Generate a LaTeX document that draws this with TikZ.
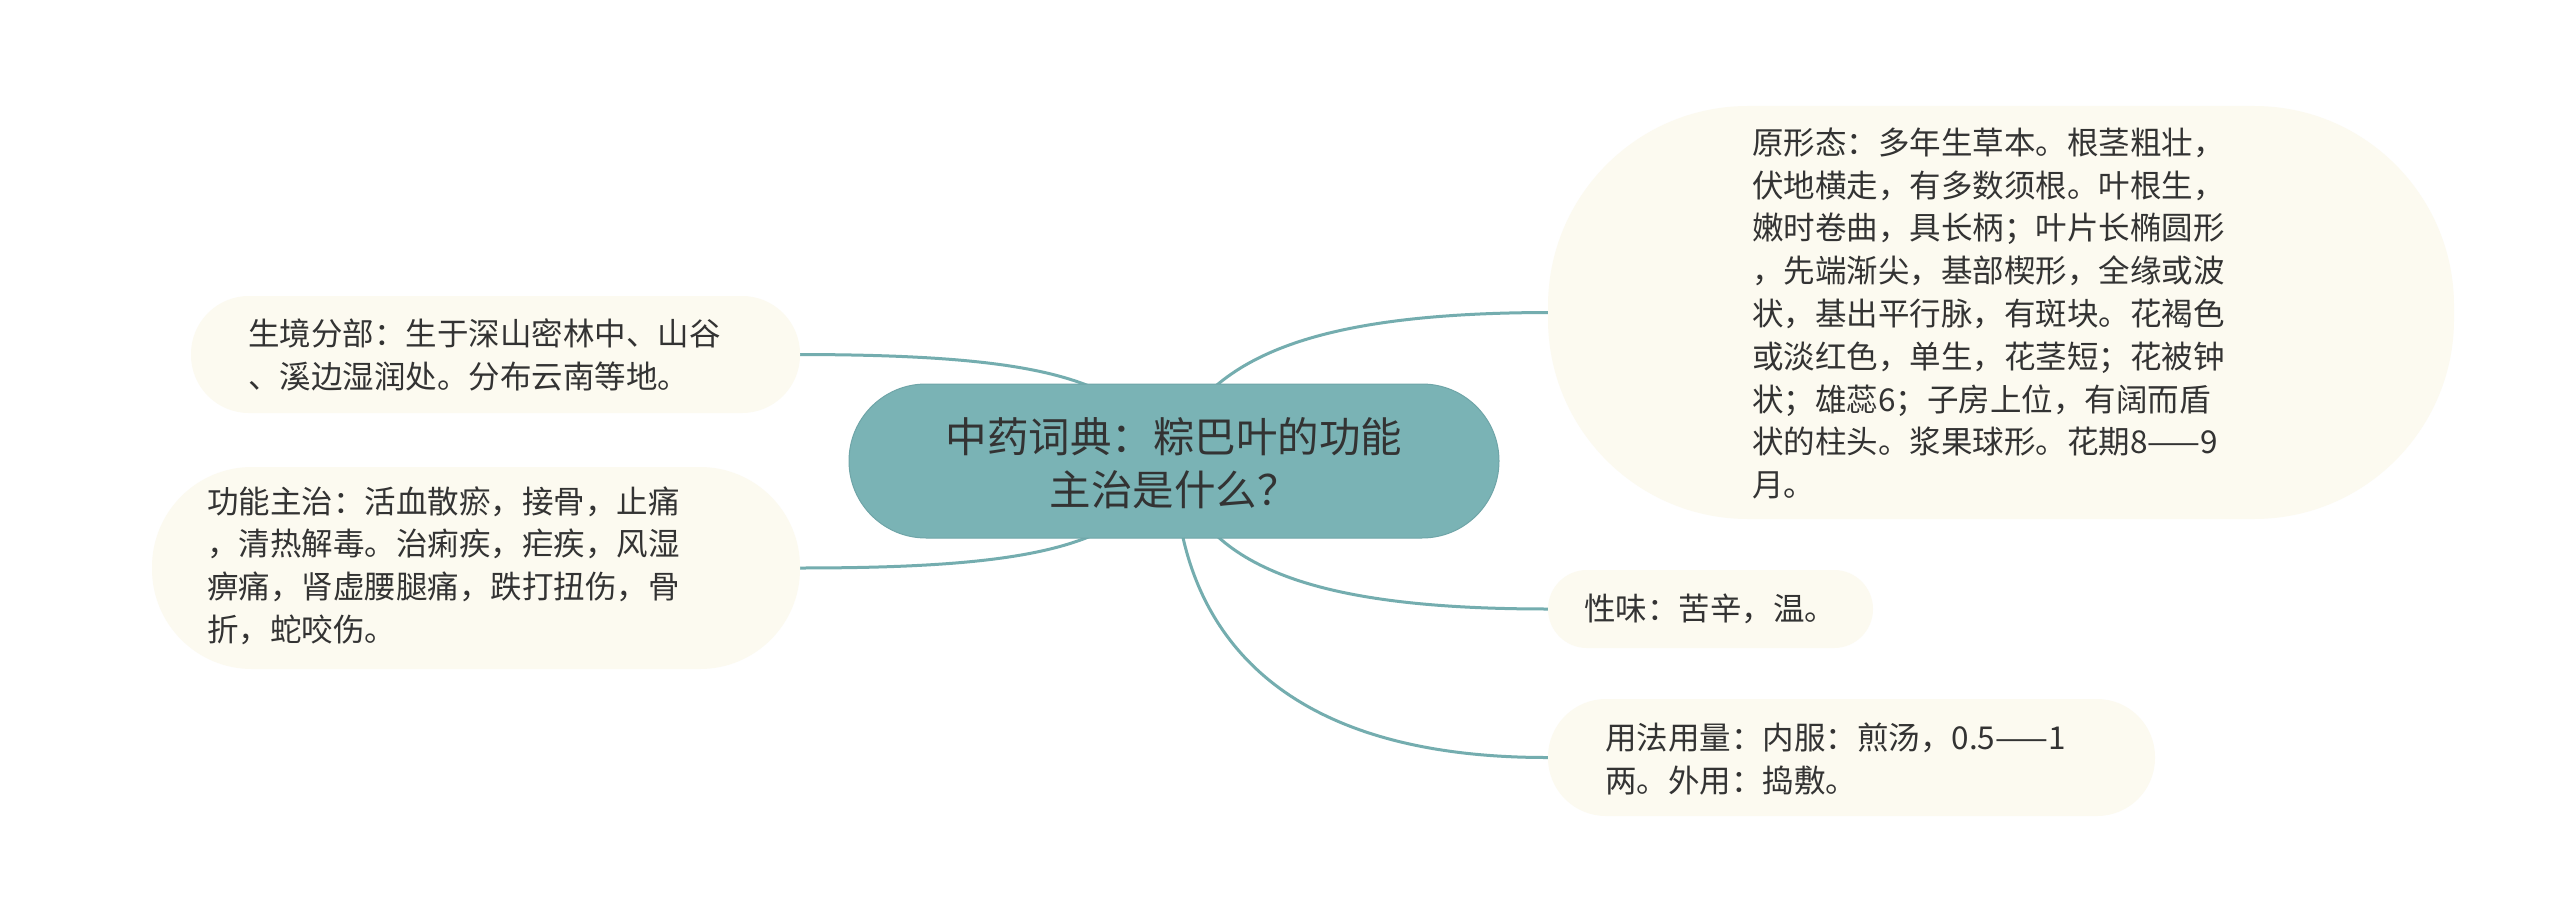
\documentclass[tikz,border=0pt]{standalone}
\usepackage{fontspec}
\setmainfont{Noto Sans CJK SC}
\usetikzlibrary{backgrounds}
\definecolor{tealfill}{HTML}{7AB3B5}
\definecolor{tealline}{HTML}{74ADAF}
\definecolor{tealborder}{HTML}{6FA5A8}
\definecolor{cream}{HTML}{FCFAF0}
\definecolor{txtcol}{HTML}{333333}
\tikzset{
  bubble/.style={fill=cream, draw=none, inner sep=0pt},
  centerbox/.style={fill=tealfill, draw=tealborder, line width=1pt, inner sep=0pt},
  sidetext/.style={text=txtcol, inner sep=0pt, align=left, anchor=west,
    font=\fontsize{31.5pt}{42.8pt}\selectfont},
  centertext/.style={text=txtcol, inner sep=0pt, align=center,
    font=\fontsize{41.5pt}{53pt}\selectfont},
  link/.style={draw=tealline, line width=3pt}
}
\begin{document}
\begin{tikzpicture}[x=1pt,y=-1pt]
\useasboundingbox (0,0) rectangle (2560,923);
% bubbles
\node[bubble, minimum width=906pt, minimum height=413pt, rounded corners=200pt] (R1) at (2001,312.5) {};
\node[bubble, minimum width=609pt, minimum height=117pt, rounded corners=58pt] (L1) at (495.5,354.5) {};
\node[bubble, minimum width=648pt, minimum height=202pt, rounded corners=100pt] (L2) at (476,568) {};
\node[bubble, minimum width=325pt, minimum height=78pt, rounded corners=39pt] (R2) at (1710.5,609) {};
\node[bubble, minimum width=607pt, minimum height=117pt, rounded corners=58pt] (R3) at (1851.5,757.5) {};
\node[centerbox, minimum width=650pt, minimum height=154pt, rounded corners=77pt] (C) at (1174,461) {};
% connectors
\begin{pgfonlayer}{background}
\fill[white] (0,0) rectangle (2560,923);
\coordinate (cL1) at (1174,461);
\coordinate (cL2) at (1174,461);
\coordinate (cR1) at (1170,450);
\coordinate (cR2) at (1180,480);
\coordinate (cR3) at (1175,480);
\draw[link] (L1.east) .. controls (1050,355) and (1130,380) .. (cL1);
\draw[link] (L2.east) .. controls (1050,568) and (1130,543) .. (cL2);
\draw[link] (cR1) .. controls (1210,350) and (1330,313) .. (R1.west);
\draw[link] (cR2) .. controls (1215,580) and (1350,609) .. (R2.west);
\draw[link] (cR3) .. controls (1185,650) and (1300,758) .. (R3.west);
\end{pgfonlayer}
% texts
\node[centertext] (Ct) at (1174,463.5) {中药词典：粽巴叶的功能\\主治是什么？};
\node[sidetext] (R1t) at (1752,313.5) {原形态：多年生草本。根茎粗壮，\\伏地横走，有多数须根。叶根生，\\嫩时卷曲，具长柄；叶片长椭圆形\\，先端渐尖，基部楔形，全缘或波\\状，基出平行脉，有斑块。花褐色\\或淡红色，单生，花茎短；花被钟\\状；雄蕊6；子房上位，有阔而盾\\状的柱头。浆果球形。花期8——9\\月。};
\node[sidetext] (L1t) at (248,355) {生境分部：生于深山密林中、山谷\\、溪边湿润处。分布云南等地。};
\node[sidetext] (L2t) at (207,565.5) {功能主治：活血散瘀，接骨，止痛\\，清热解毒。治痢疾，疟疾，风湿\\痹痛，肾虚腰腿痛，跌打扭伤，骨\\折，蛇咬伤。};
\node[sidetext] (R2t) at (1584,609) {性味：苦辛，温。};
\node[sidetext] (R3t) at (1605,759) {用法用量：内服：煎汤，0.5——1\\两。外用：捣敷。};
\end{tikzpicture}
\end{document}
